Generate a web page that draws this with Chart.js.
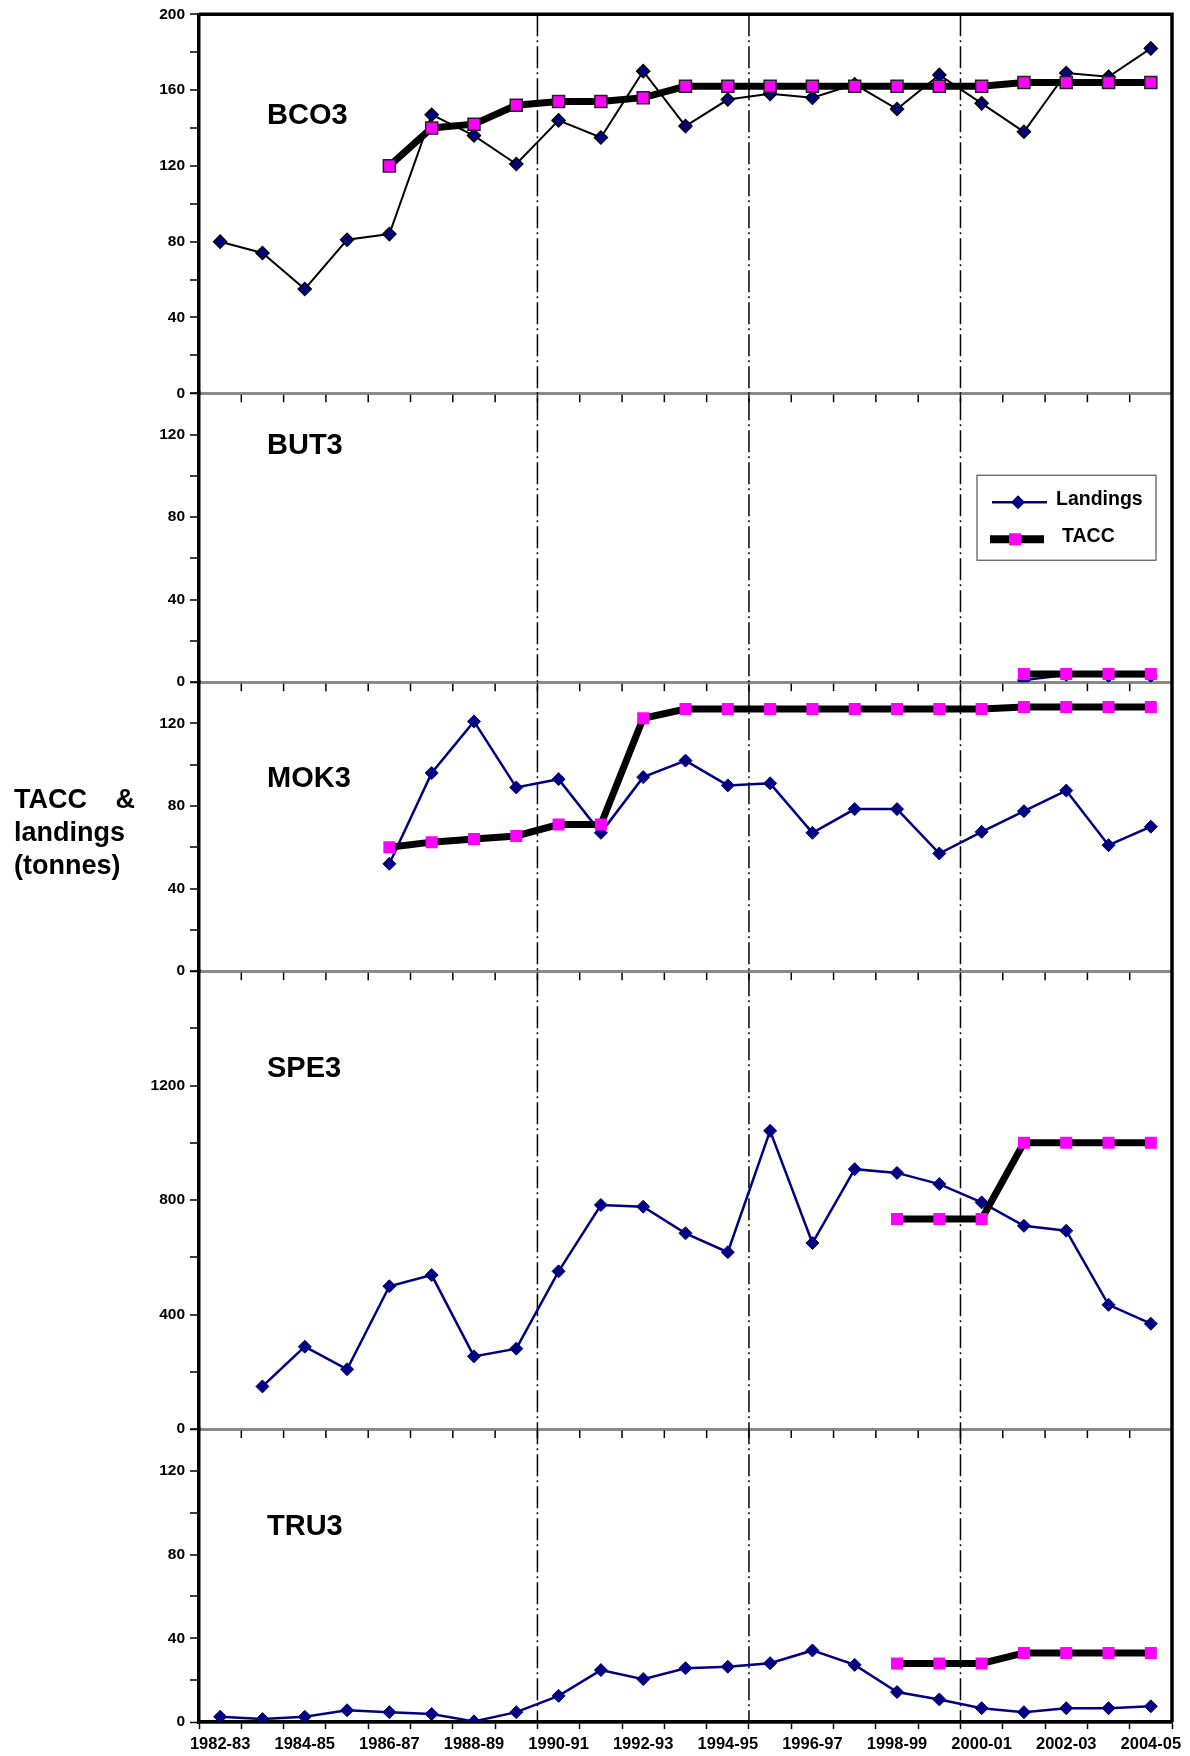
<!DOCTYPE html>
<html>
<head>
<meta charset="utf-8">
<script src="https://cdn.jsdelivr.net/npm/chart.js@4.4.1/dist/chart.umd.min.js"></script>
<style>
  html, body { margin: 0; padding: 0; background: #fff; }
  #wrap { position: relative; width: 1190px; height: 1756px; }
  #axisTitle {
    position: absolute; left: 14px; top: 783px;
    font-family: "Liberation Sans", Arial, sans-serif; font-weight: bold;
    font-size: 27px; line-height: 33px; color: #000;
  }
  #axisTitle .first { width: 121px; text-align: justify; text-align-last: justify; }
</style>
</head>
<body>
<div id="wrap">
  <canvas id="chart" width="1190" height="1756"></canvas>
  <div id="axisTitle"><div class="first">TACC &amp;</div><div>landings</div><div>(tonnes)</div></div>
</div>
<script>
// fishing years
var seasons = ['1982-83', '1983-84', '1984-85', '1985-86', '1986-87', '1987-88', '1988-89', '1989-90',
  '1990-91', '1991-92', '1992-93', '1993-94', '1994-95', '1995-96', '1996-97', '1997-98', '1998-99',
  '1999-00', '2000-01', '2001-02', '2002-03', '2003-04', '2004-05'];
var xTickLabels = ['1982-83', '1984-85', '1986-87', '1988-89', '1990-91', '1992-93', '1994-95',
  '1996-97', '1998-99', '2000-01', '2002-03', '2004-05'];
var periodStarts = ['1990-91', '1995-96', '2000-01'];

var bco3Landings = [80, 74, 55, 81, 84, 147, 136, 121, 144, 135, 170, 141, 155, 158, 156, 163, 150, 168, 153, 138, 169, 167, 182];
var bco3Tacc = [null, null, null, null, 120, 140, 142, 152, 154, 154, 156, 162, 162, 162, 162, 162, 162, 162, 162, 164, 164, 164, 164];
var but3Landings = [null, null, null, null, null, null, null, null, null, null, null, null, null, null, null, null, null, null, null, 1, 3.5, 3, 3];
var but3Tacc = [null, null, null, null, null, null, null, null, null, null, null, null, null, null, null, null, null, null, null, 4, 4, 4, 4];
var mok3Landings = [null, null, null, null, 52, 96, 121, 89, 93, 67, 94, 102, 90, 91, 67, 78.5, 78.5, 57, 67.5, 77.5, 87.5, 61, 70];
var mok3Tacc = [null, null, null, null, 60, 62.5, 64, 65.5, 71, 71, 122.5, 127, 127, 127, 127, 127, 127, 127, 127, 128, 128, 128, 128];
var spe3Landings = [null, 149, 288, 209, 499, 538, 254, 281, 551, 783, 777, 684, 618, 1042, 650, 908, 895, 856, 792, 710, 693, 434, 368];
var spe3Tacc = [null, null, null, null, null, null, null, null, null, null, null, null, null, null, null, null, 734, 734, 734, 1000, 1000, 1000, 1000];
var tru3Landings = [2.5, 1.4, 2.5, 5.6, 4.7, 3.8, 0.3, 4.7, 12.5, 24.8, 20.5, 25.7, 26.4, 28.1, 34.2, 27.3, 14.3, 10.8, 6.6, 4.7, 6.6, 6.6, 7.5];
var tru3Tacc = [null, null, null, null, null, null, null, null, null, null, null, null, null, null, null, null, 28, 28, 28, 33, 33, 33, 33];

var panelNames = ['BCO3', 'BUT3', 'MOK3', 'SPE3', 'TRU3'];
var panelMax = [200, 140, 140, 1600, 140];
var panelStep = [20, 20, 20, 200, 20];
var bco3Ticks = [0, 40, 80, 120, 160, 200];
var but3Ticks = [0, 40, 80, 120];
var mok3Ticks = [0, 40, 80, 120];
var spe3Ticks = [0, 400, 800, 1200];
var tru3Ticks = [0, 40, 80, 120];

var landingsSets = [bco3Landings, but3Landings, mok3Landings, spe3Landings, tru3Landings];
var taccSets = [bco3Tacc, but3Tacc, mok3Tacc, spe3Tacc, tru3Tacc];
var tickSets = [bco3Ticks, but3Ticks, mok3Ticks, spe3Ticks, tru3Ticks];

// layout stuff
var axisIds = ['yBCO3', 'yBUT3', 'yMOK3', 'ySPE3', 'yTRU3'];
var panelHeights = [379, 289, 289, 458, 293];
var nameOffsets = [110, 61, 105, 106, 106];
var NAVY = '#000080', PINK = '#ff00ff', GREY = '#8a8a8a';

Chart.defaults.font.family = '"Liberation Sans", Arial, sans-serif';
Chart.defaults.font.weight = 'bold';
Chart.defaults.color = '#000';

var datasets = [];
panelNames.forEach(function (name, i) {
  var first = i === 0;
  datasets.push({
    label: 'Landings',
    data: landingsSets[i],
    yAxisID: axisIds[i],
    borderColor: first ? '#000' : NAVY,
    borderWidth: first ? 2 : 2.5,
    pointStyle: 'rectRot',
    pointRadius: 6.5,
    pointBackgroundColor: NAVY,
    pointBorderColor: first ? '#000' : NAVY,
    pointBorderWidth: first ? 1.5 : 1,
    tension: 0,
    order: 1
  });
  datasets.push({
    label: 'TACC',
    data: taccSets[i],
    yAxisID: axisIds[i],
    borderColor: '#000',
    borderWidth: 7,
    pointStyle: 'rect',
    pointRadius: 8.5,
    pointBackgroundColor: PINK,
    pointBorderColor: first ? '#222' : PINK,
    pointBorderWidth: first ? 1.5 : 0,
    tension: 0,
    order: 0
  });
});

function makeYAxis(i) {
  var ticks = tickSets[i];
  return {
    type: 'linear',
    position: 'left',
    stack: 'panels',
    stackWeight: panelHeights[i],
    min: 0,
    max: panelMax[i],
    afterFit: function (s) { s.width = 199; },
    grid: {
      drawOnChartArea: true,
      color: function (c) { return (c.tick && c.tick.value === 0) ? GREY : 'rgba(0,0,0,0)'; },
      lineWidth: function (c) { return (c.tick && c.tick.value === 0) ? 3 : 0; },
      tickLength: 9,
      tickColor: '#000',
      tickWidth: 1.5
    },
    border: { color: '#000', width: 3.5 },
    ticks: {
      stepSize: panelStep[i],
      autoSkip: false,
      padding: 5,
      font: { size: 15.5, weight: 'bold' },
      callback: function (v) { return ticks.indexOf(v) >= 0 ? String(v) : ''; }
    }
  };
}

var scales = {
  x: {
    type: 'category',
    offset: true,
    afterFit: function (s) { s.height = 34; },
    grid: { offset: true, drawOnChartArea: false, tickLength: 7, tickColor: '#000', tickWidth: 1.5 },
    border: { color: '#000', width: 3.5 },
    ticks: {
      autoSkip: false, maxRotation: 0, minRotation: 0, padding: 6,
      font: { size: 16.5, weight: 'bold' },
      callback: function (v) {
        var l = this.getLabelForValue(v);
        return xTickLabels.indexOf(l) >= 0 ? l : '';
      }
    }
  }
};
// last declared left axis is placed on top of the stack
for (var k = panelNames.length - 1; k >= 0; k--) scales[axisIds[k]] = makeYAxis(k);

var decor = {
  id: 'decor',
  beforeDatasetsDraw: function (chart) {
    var ctx = chart.ctx, a = chart.chartArea, x = chart.scales.x;
    var step = x.getPixelForValue(1) - x.getPixelForValue(0);
    ctx.save();
    ctx.strokeStyle = '#000';
    ctx.lineWidth = 1.5;
    ctx.setLineDash([22, 4, 2, 4]);
    periodStarts.forEach(function (s) {
      var px = x.getPixelForValue(seasons.indexOf(s)) - step / 2;
      ctx.beginPath(); ctx.moveTo(px, a.top); ctx.lineTo(px, a.bottom); ctx.stroke();
    });
    ctx.setLineDash([]);
    // small ticks under each inner panel boundary
    axisIds.slice(0, -1).forEach(function (id) {
      var y = chart.scales[id].getPixelForValue(0);
      for (var i = 1; i < seasons.length; i++) {
        var px = x.getPixelForValue(i) - step / 2;
        ctx.beginPath(); ctx.moveTo(px, y + 1.5); ctx.lineTo(px, y + 9); ctx.stroke();
      }
    });
    ctx.restore();
  },
  afterDraw: function (chart) {
    var ctx = chart.ctx, a = chart.chartArea;
    ctx.save();
    // frame top + right
    ctx.strokeStyle = '#000';
    ctx.lineWidth = 3.5;
    ctx.beginPath();
    ctx.moveTo(a.left, a.top); ctx.lineTo(a.right, a.top); ctx.lineTo(a.right, a.bottom);
    ctx.stroke();

    // panel names
    ctx.fillStyle = '#000';
    ctx.font = 'bold 29px "Liberation Sans", Arial, sans-serif';
    ctx.textBaseline = 'alphabetic';
    panelNames.forEach(function (n, i) {
      ctx.fillText(n, a.left + 68, chart.scales[axisIds[i]].top + nameOffsets[i]);
    });

    // legend box
    var yb = chart.scales.yBUT3;
    var w = 179, h = 85, L = a.right - 16 - w, T = yb.top + 82;
    ctx.fillStyle = '#fff';
    ctx.fillRect(L, T, w, h);
    ctx.strokeStyle = '#555';
    ctx.lineWidth = 1.2;
    ctx.strokeRect(L, T, w, h);

    var y1 = T + 27, y2 = T + 64;
    ctx.strokeStyle = NAVY; ctx.lineWidth = 2.5;
    ctx.beginPath(); ctx.moveTo(L + 15, y1); ctx.lineTo(L + 70, y1); ctx.stroke();
    ctx.fillStyle = NAVY;
    ctx.beginPath();
    ctx.moveTo(L + 41 - 7, y1); ctx.lineTo(L + 41, y1 - 7); ctx.lineTo(L + 41 + 7, y1); ctx.lineTo(L + 41, y1 + 7);
    ctx.closePath(); ctx.fill();

    ctx.strokeStyle = '#000'; ctx.lineWidth = 8;
    ctx.beginPath(); ctx.moveTo(L + 13, y2); ctx.lineTo(L + 67, y2); ctx.stroke();
    ctx.fillStyle = PINK;
    ctx.fillRect(L + 32, y2 - 6, 12, 12);

    ctx.fillStyle = '#000';
    ctx.font = 'bold 19.5px "Liberation Sans", Arial, sans-serif';
    ctx.textBaseline = 'middle';
    ctx.fillText('Landings', L + 79, T + 24);
    ctx.fillText('TACC', L + 85, T + 61);
    ctx.restore();
  }
};

new Chart(document.getElementById('chart'), {
  type: 'line',
  data: { labels: seasons, datasets: datasets },
  options: {
    responsive: false,
    animation: false,
    devicePixelRatio: 1,
    events: [],
    layout: { padding: { top: 14, right: 18, bottom: 0, left: 0 } },
    plugins: { legend: { display: false }, tooltip: { enabled: false } },
    scales: scales
  },
  plugins: [decor]
});
</script>
</body>
</html>
